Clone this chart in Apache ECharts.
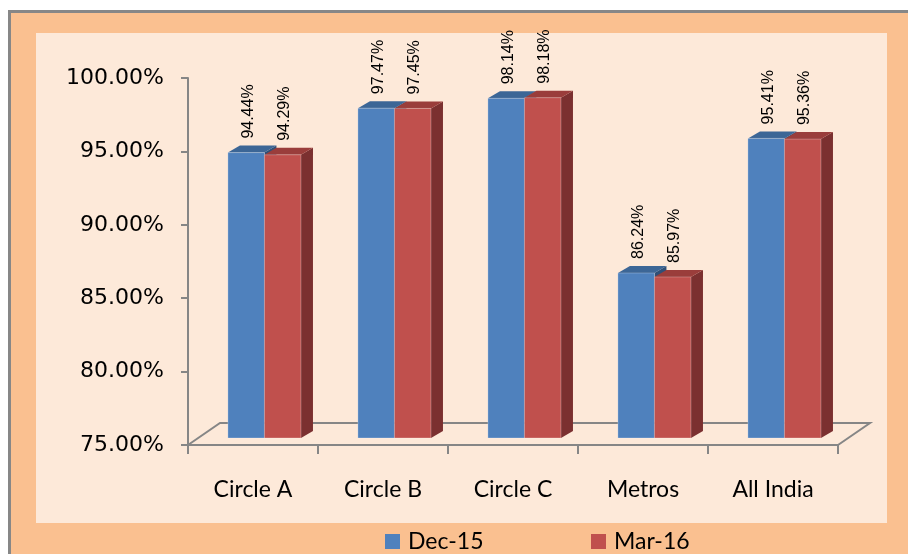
<!DOCTYPE html>
<html>
<head>
<meta charset="utf-8">
<script src="https://cdn.jsdelivr.net/npm/echarts@6/dist/echarts.min.js"></script>
<style>html,body{margin:0;padding:0;background:#fff}#c{width:908px;height:554px}</style>
</head>
<body>
<div id="c"></div>
<script>
const categories = ['Circle A', 'Circle B', 'Circle C', 'Metros', 'All India'];
const dec15 = [94.44, 97.47, 98.14, 86.24, 95.41];
const mar16 = [94.29, 97.45, 98.18, 85.97, 95.36];
const seriesNames = ['Dec-15', 'Mar-16'];
const yMin = 75, yMax = 100, yStep = 5;

const chart = echarts.init(document.getElementById('c'));
const AXIS = '#868686';
const DX = 12, DY = -7;      // bar depth
const FDX = 32, FDY = -22;   // floor depth
const palettes = [
  {front: '#4F81BD', top: '#3C6696', side: '#2F5078'},
  {front: '#C0504D', top: '#9A3D3B', side: '#7B3030'}
];

function barRender(sIdx) {
  return function (params, api) {
    const i = api.value(0), v = api.value(1);
    const band = api.size([1, 0])[0];
    const c = api.coord([i, v]);
    const base = api.coord([i, yMin]);
    const w = band * 0.281;
    const x0 = c[0] - band * 0.193 + sIdx * w;
    const x1 = x0 + w;
    const yt = c[1] - 7, yb = base[1] - 7;
    const p = palettes[sIdx];
    return {
      type: 'group',
      children: [
        {type: 'polygon', shape: {points: [[x1, yt], [x1 + DX, yt + DY], [x1 + DX, yb + DY], [x1, yb]]},
          style: {fill: p.side}},
        {type: 'polygon', shape: {points: [[x0, yt], [x1, yt], [x1 + DX, yt + DY], [x0 + DX, yt + DY]]},
          style: {fill: p.top}},
        {type: 'rect', shape: {x: x0, y: yt, width: w, height: yb - yt},
          style: {fill: p.front, stroke: 'rgba(255,255,255,0.25)', lineWidth: 1}},
        {type: 'text', x: (x0 + x1) / 2 + 2, y: yt - 14, rotation: Math.PI / 2,
          style: {text: v.toFixed(2) + '%', fill: '#000', font: '16px "Liberation Sans", Arial, sans-serif',
            align: 'left', verticalAlign: 'middle'}}
      ]
    };
  };
}

function floorRender(params, api) {
  const cs = params.coordSys;
  const xl = cs.x, xr = cs.x + cs.width, y = cs.y + cs.height;
  return {
    type: 'polyline',
    shape: {points: [[xl, y], [xl + FDX, y + FDY], [xr + FDX, y + FDY], [xr, y]]},
    style: {stroke: AXIS, lineWidth: 2, fill: null}
  };
}

const legendText = {fontFamily: 'Lato', fontSize: 23, color: '#000', padding: [0, 0, 0, 3]};

chart.setOption({
  backgroundColor: '#ffffff',
  animation: false,
  graphic: [
    {type: 'rect', z: -10, shape: {x: 9.5, y: 11.5, width: 920, height: 560},
      style: {fill: '#FAC090', stroke: '#878787', lineWidth: 3}},
    {type: 'rect', z: -9, shape: {x: 36, y: 33, width: 851, height: 490},
      style: {fill: '#FDE9D9'}}
  ],
  legend: [
    {data: [seriesNames[0]], left: 380, top: 525, icon: 'rect', itemWidth: 15, itemHeight: 15, itemGap: 8,
      textStyle: legendText},
    {data: [seriesNames[1]], left: 586, top: 525, icon: 'rect', itemWidth: 15, itemHeight: 15, itemGap: 8,
      textStyle: legendText}
  ],
  grid: {left: 188, right: 70, top: 78, bottom: 109, containLabel: false},
  xAxis: {
    type: 'category',
    data: categories,
    boundaryGap: true,
    axisLine: {lineStyle: {color: AXIS, width: 2}},
    axisTick: {show: true, length: 9, interval: 0, lineStyle: {color: AXIS, width: 2}},
    axisLabel: {interval: 0, margin: 33, color: '#000', fontFamily: 'Lato', fontSize: 23},
    splitLine: {show: false}
  },
  yAxis: {
    type: 'value',
    min: yMin, max: yMax, interval: yStep,
    axisLine: {show: true, lineStyle: {color: AXIS, width: 2}},
    axisTick: {show: true, length: 7, lineStyle: {color: AXIS, width: 2}},
    axisLabel: {margin: 24, color: '#000', fontFamily: 'DejaVu Sans', fontSize: 22,
      formatter: v => v.toFixed(2) + '%'},
    splitLine: {show: false}
  },
  series: [
    {type: 'custom', name: 'floor', z: 1, silent: true, renderItem: floorRender, data: [[0, yMin]], clip: false},
    {type: 'custom', name: seriesNames[0], z: 3, itemStyle: {color: palettes[0].front},
      renderItem: barRender(0), data: dec15.map((v, i) => [i, v]), clip: false},
    {type: 'custom', name: seriesNames[1], z: 4, itemStyle: {color: palettes[1].front},
      renderItem: barRender(1), data: mar16.map((v, i) => [i, v]), clip: false}
  ]
});
</script>
</body>
</html>
